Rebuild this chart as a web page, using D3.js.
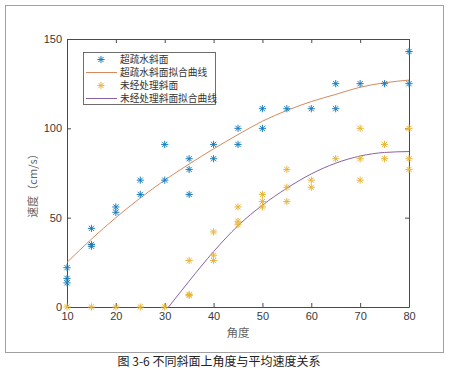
<!DOCTYPE html>
<html>
<head>
<meta charset="utf-8">
<script src="https://cdn.jsdelivr.net/npm/d3@7"></script>
<style>
  body { margin: 0; background: #fff; }
  svg { display: block; }
</style>
</head>
<body>
<svg id="svg" width="450" height="372"></svg>
<script>
// values
const angleTicks = [10, 20, 30, 40, 50, 60, 70, 80];
const speedTicks = [0, 50, 100, 150];

// [angle, speed] measurements
const superHydrophobic = [[10, 22], [10, 16], [10, 13.5], [15, 44], [15, 35], [15, 34], [20, 56], [20, 53],
  [25, 71], [25, 63], [30, 91], [30, 71], [35, 83], [35, 77], [35, 63], [40, 91], [40, 83], [45, 100], [45, 91],
  [50, 111], [50, 100], [55, 111], [60, 111], [65, 125], [65, 111], [70, 125], [75, 125], [80, 143], [80, 125]];
const untreated = [[10, 0], [15, 0], [20, 0], [25, 0], [30, 0], [35, 26], [35, 7], [35, 6.5], [40, 42], [40, 29],
  [40, 26], [45, 56], [45, 48], [45, 46], [50, 63], [50, 59], [50, 56], [55, 77], [55, 67], [55, 59], [60, 71],
  [60, 67], [65, 83], [70, 100], [70, 83], [70, 71], [75, 91], [75, 83], [80, 100], [80, 83], [80, 77]];

// fitted curves
const fitAnglesA = [10, 15, 20, 25, 30, 35, 40, 45, 50, 55, 60, 65, 70, 75, 80];
const fitSpeedsA = [25, 38, 50, 61, 71, 80, 88.5, 96.5, 104, 110, 115, 119, 123, 125.5, 127];
const fitAnglesB = [30.8, 35, 40, 45, 50, 55, 60, 65, 70, 75, 80];
const fitSpeedsB = [0, 14.5, 31, 45.5, 57, 66.5, 74.5, 80.5, 84.5, 86.5, 87];

const legendLabels = ['超疏水斜面', '超疏水斜面拟合曲线', '未经处理斜面', '未经处理斜面拟合曲线'];
const caption = '图 3-6 不同斜面上角度与平均速度关系';

const BLUE = '#1a7fbf', YELLOW = '#e8b63a', ORANGE = '#d7895e', PURPLE = '#8a62a0';
const AXIS = '#4a4a4a';
const CJK = '"Noto Sans CJK SC", sans-serif';

const svg = d3.select('#svg');
const plot = { left: 67, right: 409, top: 39, bottom: 307 };

const x = d3.scaleLinear().domain([10, 80]).range([plot.left, plot.right]);
const y = d3.scaleLinear().domain([0, 150]).range([plot.bottom, plot.top]);

// outer figure frame
svg.append('rect').attr('x', 5.5).attr('y', 5.5).attr('width', 438).attr('height', 347)
  .attr('fill', 'none').attr('stroke', '#a0a0a0').attr('stroke-width', 1);

// axes, ticks pointing inward, mirrored on top / right
const styleAxis = (g) => {
  g.select('.domain').attr('stroke', AXIS);
  g.selectAll('.tick line').attr('stroke', AXIS);
  g.selectAll('.tick text').attr('fill', '#3a3a3a').attr('font-family', '"Liberation Sans", Arial, sans-serif').attr('font-size', 11);
};
svg.append('g').attr('transform', `translate(0,${plot.bottom})`)
  .call(d3.axisBottom(x).tickValues(angleTicks).tickSize(-4).tickPadding(5).tickSizeOuter(0)).call(styleAxis);
svg.append('g').attr('transform', `translate(${plot.left},0)`)
  .call(d3.axisLeft(y).tickValues(speedTicks).tickSize(-4).tickPadding(5).tickSizeOuter(0)).call(styleAxis);
svg.append('g').attr('transform', `translate(0,${plot.top})`)
  .call(d3.axisTop(x).tickValues(angleTicks).tickSize(-4).tickFormat('').tickSizeOuter(0)).call(styleAxis);
svg.append('g').attr('transform', `translate(${plot.right},0)`)
  .call(d3.axisRight(y).tickValues(speedTicks).tickSize(-4).tickFormat('').tickSizeOuter(0)).call(styleAxis);

// axis titles
svg.append('text').attr('x', (plot.left + plot.right) / 2).attr('y', 337).attr('text-anchor', 'middle')
  .attr('font-family', CJK).attr('font-size', 11.5).attr('fill', '#666').text('角度');
svg.append('text').attr('transform', 'translate(37,183) rotate(-90)').attr('text-anchor', 'middle')
  .attr('font-family', CJK).attr('font-size', 11).attr('fill', '#666').text('速度（cm/s）');

// fit lines
const line = d3.line().x(d => x(d[0])).y(d => y(d[1])).curve(d3.curveMonotoneX);
const fitA = fitAnglesA.map((a, i) => [a, fitSpeedsA[i]]);
const fitB = fitAnglesB.map((a, i) => [a, fitSpeedsB[i]]);
svg.append('path').datum(fitA).attr('d', line).attr('fill', 'none').attr('stroke', ORANGE).attr('stroke-width', 1);
svg.append('path').datum(fitB).attr('d', line).attr('fill', 'none').attr('stroke', PURPLE).attr('stroke-width', 1);

// matlab-style '*' marker
const r = 3.6, d = r * 0.72;
const star = `M0,${-r}V${r}M${-r},0H${r}M${-d},${-d}L${d},${d}M${-d},${d}L${d},${-d}`;

const drawMarkers = (data, color) => svg.append('g').selectAll('path').data(data).join('path')
  .attr('d', star).attr('transform', p => `translate(${x(p[0])},${y(p[1])})`)
  .attr('fill', 'none').attr('stroke', color).attr('stroke-width', 1);
drawMarkers(superHydrophobic, BLUE);
drawMarkers(untreated, YELLOW);

// legend
const legend = svg.append('g');
legend.append('rect').attr('x', 83.5).attr('y', 52.5).attr('width', 132).attr('height', 52)
  .attr('fill', '#fff').attr('stroke', AXIS).attr('stroke-width', 0.8);
const rows = legendLabels.map((label, i) => ({
  label, y: 59.5 + i * 13,
  kind: i % 2 === 0 ? 'marker' : 'line',
  color: [BLUE, ORANGE, YELLOW, PURPLE][i]
}));
legend.selectAll('text').data(rows).join('text')
  .attr('x', 120).attr('y', row => row.y).attr('dy', '0.35em')
  .attr('font-family', CJK).attr('font-size', 9.7).attr('fill', '#333').text(row => row.label);
legend.selectAll('line').data(rows.filter(row => row.kind === 'line')).join('line')
  .attr('x1', 86).attr('x2', 117).attr('y1', row => row.y).attr('y2', row => row.y)
  .attr('stroke', row => row.color).attr('stroke-width', 1);
legend.selectAll('path').data(rows.filter(row => row.kind === 'marker')).join('path')
  .attr('d', star).attr('transform', row => `translate(101,${row.y})`)
  .attr('fill', 'none').attr('stroke', row => row.color).attr('stroke-width', 1);

// caption under the frame
svg.append('text').attr('x', 219).attr('y', 362).attr('dy', '0.35em').attr('text-anchor', 'middle')
  .attr('font-family', CJK).attr('font-size', 12).attr('fill', '#222').text(caption);
</script>
</body>
</html>
